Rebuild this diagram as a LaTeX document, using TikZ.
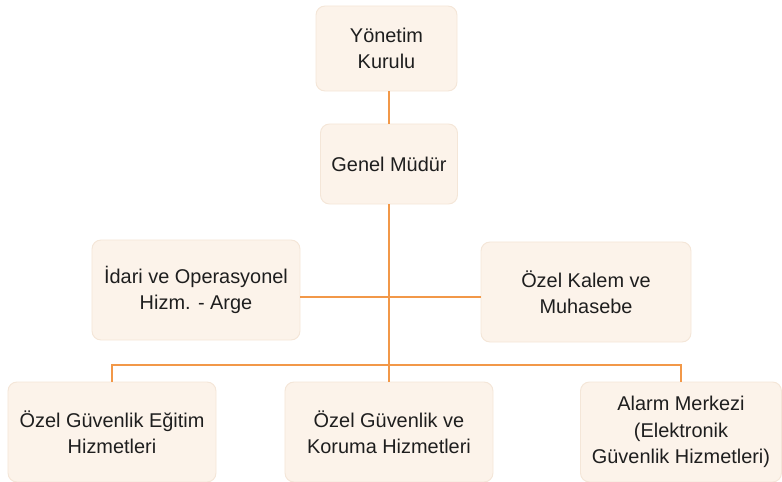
\documentclass[tikz,border=0pt]{standalone}
\usepackage{fontspec}
\setmainfont{Liberation Sans}
\usepackage{tikz}
\usetikzlibrary{positioning, calc}
\definecolor{boxfill}{RGB}{252,243,234}
\definecolor{boxedge}{RGB}{244,230,216}
\definecolor{linkline}{RGB}{242,152,72}
\definecolor{textgray}{RGB}{30,30,30}
\tikzset{
    orgbox/.style={
        rectangle,
        rounded corners=0.27cm,
        draw=boxedge,
        line width=0.8pt,
        fill=boxfill,
        text=textgray,
        align=center,
        inner sep=0pt,
        font=\fontsize{17}{22.5}\selectfont
    },
    unitbox/.style={
        orgbox,
        minimum width=6.24cm,
        minimum height=3cm
    },
    link/.style={
        draw=linkline,
        line width=1.4pt
    }
}
\begin{document}
\begin{tikzpicture}[x=0.03cm, y=-0.03cm]

\useasboundingbox (0,0) rectangle (782,482);

% Top of the chart
\node[orgbox, minimum width=4.23cm, minimum height=2.55cm] (yk) at (386.5, 48.5) {Yönetim\\Kurulu};
\node[orgbox, minimum width=4.11cm, minimum height=2.4cm] (gm) at (389, 164) {Genel Müdür};

% Staff units
\node[unitbox] (idari) at (196, 290) {İdari ve Operasyonel\\Hizm. - Arge};
\node[unitbox, minimum width=6.3cm] (kalem) at (586, 292) {Özel Kalem ve\\Muhasebe};

% Service units
\node[unitbox] (egitim) at (112, 432) {Özel Güvenlik Eğitim\\Hizmetleri};
\node[unitbox] (koruma) at (389, 432) {Özel Güvenlik ve\\Koruma Hizmetleri};
\node[unitbox, minimum width=6.03cm] (alarm) at (681, 432) {Alarm Merkezi\\(Elektronik\\Güvenlik Hizmetleri)};

\coordinate (hub) at (389, 297);
\coordinate (bus) at (389, 365);

% Connectors
\draw[link] (gm.north |- yk.south) -- (gm.north);
\draw[link] (gm.south) -- (bus);
\draw[link] (idari.east |- hub) -- (kalem.west |- hub);
\draw[link] (egitim.north) -- (egitim.north |- bus) -- (alarm.north |- bus) -- (alarm.north);
\draw[link] (bus) -- (koruma.north);

\end{tikzpicture}
\end{document}
